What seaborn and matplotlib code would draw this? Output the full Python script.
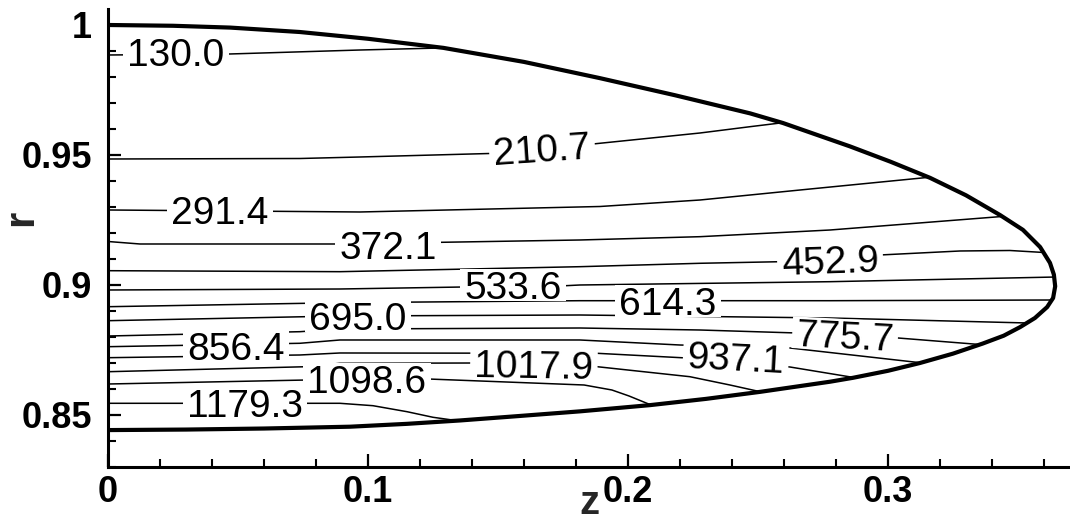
import numpy as np
import pandas as pd
import matplotlib
matplotlib.use("Agg")
import matplotlib.pyplot as plt
import seaborn as sns
from matplotlib.path import Path
from matplotlib.patches import Polygon
from matplotlib.ticker import MultipleLocator

# ---------------- data (z, r) ----------------
levels = [130.0, 210.7, 291.4, 372.1, 452.9, 533.6, 614.3, 695.0,
          775.7, 856.4, 937.1, 1017.9, 1098.6, 1179.3]

z_130 = [0.0, 0.0469, 0.0969, 0.1277, 0.1300]
r_130 = [0.98846, 0.98885, 0.99038, 0.99115, 0.99150]
z_210 = [0.0, 0.0738, 0.0969, 0.1469, 0.1865, 0.2277, 0.2469, 0.2610]
r_210 = [0.94846, 0.94865, 0.94923, 0.95058, 0.95423, 0.95846, 0.96088, 0.96260]
z_291 = [0.0, 0.0969, 0.1892, 0.2277, 0.2662, 0.3175]
r_291 = [0.92885, 0.92808, 0.93019, 0.93269, 0.93654, 0.94160]
z_372 = [0.0, 0.0123, 0.0892, 0.1815, 0.2277, 0.2777, 0.3445]
r_372 = [0.91673, 0.91577, 0.91577, 0.91731, 0.91858, 0.92115, 0.92640]
z_452 = [0.0, 0.0892, 0.1815, 0.2277, 0.2585, 0.2969, 0.3277, 0.3469, 0.3600]
r_452 = [0.90550, 0.90512, 0.90704, 0.90835, 0.90896, 0.91154, 0.91308, 0.91327, 0.91250]
z_533 = [0.0, 0.0892, 0.1365, 0.1738, 0.1815, 0.2777, 0.3650]
r_533 = [0.89808, 0.89846, 0.89923, 0.89962, 0.90000, 0.90127, 0.90308]
z_614 = [0.0, 0.0892, 0.1815, 0.2777, 0.3635]
r_614 = [0.89165, 0.89319, 0.89396, 0.89396, 0.89423]
z_695 = [0.0, 0.0892, 0.1815, 0.2777, 0.3540]
r_695 = [0.88627, 0.88808, 0.88846, 0.88731, 0.88538]
z_775 = [0.0, 0.0738, 0.0892, 0.1815, 0.2277, 0.2650, 0.3038, 0.3380]
r_775 = [0.88038, 0.88204, 0.88308, 0.88346, 0.88269, 0.88154, 0.87962, 0.87690]
z_856 = [0.0, 0.0738, 0.0892, 0.1815, 0.2200, 0.2623, 0.3125]
r_856 = [0.87627, 0.87758, 0.87885, 0.87885, 0.87692, 0.87577, 0.87010]
z_937 = [0.0, 0.0738, 0.0892, 0.1881, 0.2227, 0.2623, 0.2870]
r_937 = [0.87204, 0.87308, 0.87385, 0.87373, 0.87192, 0.86846, 0.86440]
z_1017 = [0.0, 0.0765, 0.0892, 0.1419, 0.1881, 0.2238, 0.2392, 0.2520]
r_1017 = [0.86665, 0.86858, 0.86988, 0.87000, 0.86858, 0.86473, 0.86154, 0.85870]
z_1098 = [0.0, 0.0765, 0.1231, 0.1831, 0.1938, 0.2004, 0.2090]
r_1098 = [0.86192, 0.86346, 0.86385, 0.86154, 0.85962, 0.85731, 0.85380]
z_1179 = [0.0, 0.0892, 0.1019, 0.1150, 0.1250, 0.1330]
r_1179 = [0.85450, 0.85450, 0.85358, 0.85127, 0.84912, 0.84800]

# domain boundary
upper_z = [0.0, 0.025, 0.047, 0.0738, 0.100, 0.129, 0.160, 0.189, 0.218,
           0.247, 0.2596, 0.2854, 0.3010, 0.3162, 0.3300, 0.3431, 0.3519,
           0.3585, 0.3623, 0.3638, 0.3643]
upper_r = [1.0000, 0.9997, 0.9990, 0.9973, 0.9947, 0.9912, 0.9858, 0.9796, 0.9730,
           0.9660, 0.9623, 0.9533, 0.9474, 0.9412, 0.9345, 0.9269, 0.9212,
           0.9146, 0.9085, 0.9040, 0.8995]
lower_z = [0.0, 0.030, 0.060, 0.0931, 0.115, 0.1354, 0.158, 0.1815, 0.2085,
           0.230, 0.2508, 0.2777, 0.2865, 0.300, 0.3123, 0.325, 0.3365, 0.3445,
           0.3508, 0.3565, 0.3612, 0.3635, 0.3643]
lower_r = [0.8442, 0.8444, 0.8448, 0.8455, 0.8466, 0.8479, 0.8496, 0.8514, 0.8538,
           0.8562, 0.8589, 0.8628, 0.8643, 0.8670, 0.8700, 0.8736, 0.8775, 0.8805,
           0.8838, 0.8873, 0.8915, 0.8950, 0.8995]

# inline label centres
label_z = [0.0262, 0.1669, 0.0431, 0.1077, 0.2777, 0.1558, 0.2154, 0.0962,
           0.2835, 0.0492, 0.2415, 0.1638, 0.0996, 0.0527]
label_r = [0.98962, 0.95269, 0.92885, 0.91538, 0.91000, 0.90000, 0.89385, 0.88808,
           0.88077, 0.87654, 0.87231, 0.86962, 0.86385, 0.85462]

x_ticks = [0.0, 0.1, 0.2, 0.3]
x_tick_labels = ["0", "0.1", "0.2", "0.3"]
y_ticks = [0.85, 0.90, 0.95, 1.00]
y_tick_labels = ["0.85", "0.9", "0.95", "1"]

# ---------------- styling ----------------
label_rot = [0, 4, 0, 0, 2, 0, 0, 0, -3, 0, -3, -1, 0, 0]

sns.set_theme(style="ticks")
plt.rcParams["font.family"] = ["Liberation Sans", "DejaVu Sans"]

W, H = 1070, 521
fig = plt.figure(figsize=(W / 100, H / 100), dpi=100)
fig.patch.set_facecolor("white")
ax = fig.add_axes([108 / W, 54 / H, 962 / W, 458 / H])
ax.set_facecolor("white")

ax.set_xlim(0.0, 0.37)
ax.set_ylim(0.83, 1.00615)

# domain polygon for clipping
poly_z = upper_z + lower_z[::-1]
poly_r = upper_r + lower_r[::-1]
domain = Polygon(np.column_stack([poly_z, poly_r]), closed=True,
                 facecolor="none", edgecolor="none")
ax.add_patch(domain)

lines_z = [z_130, z_210, z_291, z_372, z_452, z_533, z_614, z_695,
           z_775, z_856, z_937, z_1017, z_1098, z_1179]
lines_r = [r_130, r_210, r_291, r_372, r_452, r_533, r_614, r_695,
           r_775, r_856, r_937, r_1017, r_1098, r_1179]

for zz, rr in zip(lines_z, lines_r):
    df = pd.DataFrame({"z": zz, "r": rr})
    n0 = len(ax.lines)
    sns.lineplot(data=df, x="z", y="r", sort=False, estimator=None,
                 color="black", linewidth=1.1, ax=ax)
    for ln in ax.lines[n0:]:
        ln.set_clip_path(domain)
        ln.set_zorder(2)
        ln.set_solid_joinstyle("round")

# boundary
bdf = pd.DataFrame({"z": poly_z, "r": poly_r})
n0 = len(ax.lines)
sns.lineplot(data=bdf, x="z", y="r", sort=False, estimator=None,
             color="black", linewidth=3.0, ax=ax)
for ln in ax.lines[n0:]:
    ln.set_zorder(3)
    ln.set_solid_joinstyle("round")
    ln.set_solid_capstyle("round")


def label_box(x0, y0, width, height, mutation_scale):
    px = 0.11 * mutation_scale
    py = 0.05 * mutation_scale
    d = 0.21 * mutation_scale
    verts = [(x0 - px, y0 + d - py), (x0 + width + px, y0 + d - py),
             (x0 + width + px, y0 + height + py), (x0 - px, y0 + height + py),
             (x0 - px, y0 + d - py)]
    codes = [Path.MOVETO, Path.LINETO, Path.LINETO, Path.LINETO, Path.CLOSEPOLY]
    return Path(verts, codes)


for lv, zc, rc, rot in zip(levels, label_z, label_r, label_rot):
    ax.text(zc, rc, f"{lv:.1f}", fontsize=28, color="black",
            ha="center", va="center_baseline", rotation=rot,
            rotation_mode="anchor", zorder=5,
            bbox=dict(boxstyle=label_box, facecolor="white", edgecolor="none"))

# axes / ticks
sns.despine(ax=ax)
for side in ["left", "bottom"]:
    ax.spines[side].set_linewidth(2.2)
    ax.spines[side].set_color("black")

ax.set_xticks(x_ticks, labels=x_tick_labels, fontsize=26, fontweight="bold")
ax.set_yticks(y_ticks, labels=y_tick_labels, fontsize=26, fontweight="bold")
ax.xaxis.set_minor_locator(MultipleLocator(0.02))
ax.yaxis.set_minor_locator(MultipleLocator(0.01))
ax.tick_params(which="both", direction="in", color="black", labelcolor="black")
ax.tick_params(which="major", length=9.5, width=1.6)
ax.tick_params(which="minor", length=5.5, width=1.5)
ax.tick_params(axis="x", which="major", pad=5.5)
ax.tick_params(axis="y", which="major", pad=11.5)

ax.set_xlabel("z", fontsize=29, fontweight="bold")
ax.set_ylabel("r", fontsize=30, fontweight="bold")
ax.xaxis.set_label_coords(0.5005, -0.038)
ax.yaxis.set_label_coords(-0.0697, 0.5437)
ax.grid(False)

fig.savefig("out.png", dpi=100, facecolor="white")
